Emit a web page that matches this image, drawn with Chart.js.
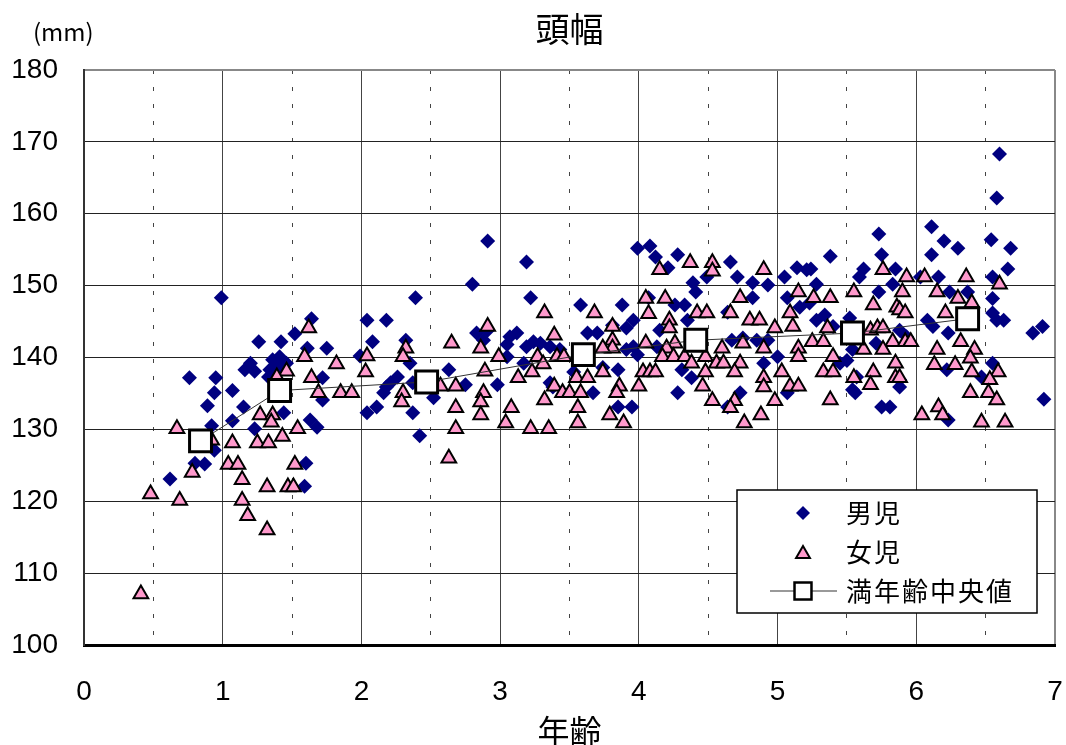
<!DOCTYPE html>
<html lang="ja">
<head>
<meta charset="utf-8">
<title>頭幅</title>
<script src="https://cdn.jsdelivr.net/npm/chart.js@4.4.1/dist/chart.umd.min.js"></script>
<style>
    html, body { margin: 0; padding: 0; background: #fff; }
    #caixa { width: 1066px; height: 745px; }
</style>
</head>
<body>
<div id="caixa"><canvas id="grafico"></canvas></div>
<script>
// dados: [idade, largura da cabeca (mm)]
const boys = [
    [0.99,148.3],[1.64,145.4],[1.52,143.3],[1.26,142.2],[1.42,142.2],[1.61,141.3],[1.75,141.3],
    [1.20,139.2],[1.16,138.3],[1.23,138.1],[1.36,139.7],[1.41,140.1],[1.46,139.2],[1.34,138.3],
    [1.41,138.7],[1.33,137.3],[0.76,137.2],[0.95,137.2],[0.94,135.1],[1.07,135.4],[0.89,133.3],
    [1.15,133.1],[1.72,137.2],[1.72,134.1],[1.44,132.3],[1.07,131.2],[0.92,130.5],[1.23,130.1],
    [1.63,131.3],[1.68,130.3],[0.94,127.1],[0.80,125.3],[0.87,125.2],[0.62,123.1],[1.60,125.3],
    [1.59,122.1],
    [2.91,156.2],[3.19,153.3],[2.80,150.2],[3.22,148.3],[2.39,148.3],[2.04,145.2],[2.18,145.2],
    [2.08,142.2],[2.32,142.4],[1.99,140.2],[2.35,139.2],[2.83,143.4],[2.91,143.8],[2.88,142.4],
    [3.07,142.9],[3.12,143.4],[3.05,141.8],[3.24,142.2],[3.19,141.5],[3.29,142.0],[3.36,141.5],
    [3.43,141.1],[3.05,140.1],[3.17,139.2],[2.26,137.3],[2.21,136.5],[2.16,135.1],[2.18,135.9],
    [2.11,133.1],[2.04,132.3],[2.37,136.5],[2.37,132.3],[2.42,129.1],[2.52,134.4],[2.63,138.3],
    [2.75,136.2],[2.98,136.2],[3.36,136.5],[3.38,135.9],
    [3.99,155.2],[4.08,155.5],[4.12,154.0],[4.28,154.3],[4.21,152.5],[4.66,153.3],[4.71,151.2],
    [4.39,150.4],[4.41,149.1],[4.49,151.2],[4.82,150.4],[4.93,150.1],[4.82,148.3],[5.14,152.5],
    [5.21,152.2],[5.05,151.2],[5.07,148.3],[5.16,147.0],[5.23,147.6],[3.58,147.3],[3.88,147.3],
    [4.26,147.3],[4.33,147.3],[4.07,148.3],[4.64,146.3],[4.35,145.2],[3.81,144.5],[3.96,145.2],
    [3.91,144.1],[3.63,143.4],[3.70,143.4],[4.15,143.8],[4.67,142.4],[4.75,142.7],[4.85,142.4],
    [4.93,142.4],[4.90,139.2],[5.00,140.1],[3.91,141.1],[3.99,140.4],[3.96,141.5],[4.13,141.5],
    [3.85,138.3],[3.74,138.6],[3.53,138.0],[4.31,138.3],[4.38,137.2],[3.67,135.1],[4.28,135.1],
    [4.73,135.1],[5.07,135.1],[3.85,133.1],[3.95,133.1],[4.64,133.1],
    [6.60,168.3],[6.58,162.2],[6.11,158.2],[5.73,157.2],[6.20,156.2],[6.54,156.4],[6.30,155.2],
    [6.68,155.2],[5.75,154.3],[6.11,154.3],[5.38,154.1],[5.24,152.3],[5.62,152.3],[5.59,151.2],
    [5.85,152.3],[6.66,152.3],[5.28,150.2],[5.73,149.1],[5.83,150.2],[6.03,151.2],[6.16,151.2],
    [6.55,151.2],[6.24,149.1],[6.37,149.1],[6.55,148.2],[6.55,146.2],[6.63,145.2],[6.84,143.4],
    [6.91,144.3],[6.08,145.2],[6.12,144.3],[6.23,143.4],[5.52,145.5],[5.28,145.2],[5.34,145.9],
    [5.40,144.3],[5.54,141.1],[5.71,142.0],[5.88,143.8],[5.93,142.9],[6.55,139.2],[6.22,138.3],
    [6.47,137.3],[5.56,135.1],[5.75,133.1],[5.81,133.1],[5.88,135.9],[6.23,131.3],[6.92,134.2],
    [5.45,139.2],[5.50,139.6],[6.58,145.2],[5.57,137.3],[5.54,135.5],[5.88,136.9]
];

const girls = [
    [1.62,144.1],[1.59,140.1],[1.46,138.1],[1.39,137.3],[1.64,137.2],[1.69,135.1],[1.27,132.0],
    [1.36,132.0],[1.35,131.0],[0.67,130.1],[1.54,130.1],[1.43,129.0],[1.07,128.1],[1.25,128.1],
    [1.33,128.1],[0.92,128.5],[1.04,125.1],[1.11,125.1],[1.52,125.1],[0.78,124.0],[1.14,123.0],
    [1.32,122.0],[1.47,122.0],[1.51,122.0],[0.48,121.0],[0.69,120.1],[1.14,120.1],[1.18,118.0],
    [1.32,116.0],[0.41,107.1],
    [3.32,146.2],[2.91,144.3],[3.39,143.1],[2.65,142.0],[2.86,141.3],[2.32,141.3],[2.30,140.1],
    [2.04,140.2],[1.82,139.1],[2.99,140.1],[3.27,140.1],[3.41,140.1],[3.46,140.1],[3.31,139.1],
    [2.03,138.0],[2.89,138.1],[3.23,138.0],[3.13,137.2],[1.85,135.1],[1.93,135.1],[2.57,136.0],
    [2.68,136.0],[2.30,135.1],[2.29,133.8],[2.88,135.1],[2.86,133.8],[3.39,136.0],[3.45,135.1],
    [3.32,134.1],[2.68,133.0],[3.08,133.0],[2.86,132.0],[3.04,130.9],[2.68,130.1],[3.22,130.1],
    [3.35,130.1],[2.63,126.0],
    [4.15,152.2],[4.37,153.2],[4.53,153.2],[4.53,152.0],[4.90,152.2],[5.15,149.1],[4.05,148.2],
    [4.19,148.2],[4.73,148.3],[3.68,146.2],[4.07,146.1],[4.42,146.2],[4.49,146.2],[4.66,146.2],
    [4.80,145.2],[4.87,145.2],[4.98,144.1],[5.09,146.2],[5.11,144.3],[3.81,144.3],[4.22,145.2],
    [4.22,144.1],[3.81,142.4],[3.81,141.3],[3.74,141.3],[4.05,142.0],[4.26,142.0],[4.20,141.3],
    [4.60,141.3],[4.75,142.0],[4.90,141.3],[5.15,141.3],[5.15,140.1],[4.17,140.1],[4.25,140.1],
    [4.33,140.1],[4.38,139.2],[4.48,140.1],[4.56,139.2],[4.61,139.2],[4.73,139.2],[3.74,138.0],
    [4.03,138.0],[4.08,138.0],[4.12,138.0],[4.48,138.0],[4.69,138.0],[5.03,138.0],[3.55,137.2],
    [3.63,137.2],[4.90,137.2],[4.90,135.9],[5.09,136.0],[5.15,136.0],[3.86,136.0],[3.84,135.1],
    [4.00,136.0],[4.46,136.0],[3.50,135.1],[3.58,135.1],[3.56,133.0],[3.79,132.0],[3.56,130.9],
    [3.89,130.9],[4.53,134.0],[4.69,134.0],[4.66,133.0],[4.98,134.0],[4.76,130.9],[4.88,132.0],
    [5.76,152.2],[5.93,151.2],[6.06,151.2],[6.36,151.2],[6.60,150.2],[6.15,149.1],[5.55,149.1],
    [5.90,149.1],[6.30,148.2],[6.40,147.6],[5.26,148.3],[5.38,148.3],[5.69,147.3],[5.86,147.0],
    [5.88,146.6],[5.92,146.2],[6.21,146.2],[5.36,144.1],[5.67,143.8],[5.72,144.1],[5.76,144.1],
    [5.25,142.2],[5.33,142.2],[5.83,142.2],[5.92,142.2],[5.96,142.2],[6.32,142.2],[5.62,141.1],
    [5.76,141.1],[6.15,141.1],[6.42,141.1],[5.40,140.1],[5.85,139.2],[6.39,139.9],[6.13,139.0],
    [6.28,139.0],[5.33,138.0],[5.40,138.0],[5.69,138.0],[6.40,138.0],[6.59,138.0],[5.55,137.2],
    [5.67,136.2],[5.85,137.2],[5.88,137.2],[6.53,136.9],[6.39,135.1],[6.52,135.1],[6.58,134.1],
    [5.38,134.1],[6.04,132.0],[6.16,133.1],[6.19,132.0],[6.47,131.0],[6.64,131.0]
];

// mediana por idade completa
const medianAge = [0.84, 1.41, 2.47, 3.60, 4.41, 5.54, 6.37];
const medianWidth = [128.4, 135.4, 136.6, 140.4, 142.4, 143.4, 145.4];

const seriesNames = ["男児", "女児", "満年齢中央値"];
const xMin = 0, xMax = 7;
const yMin = 100, yMax = 180, yStep = 10;

const fonteJp = '"Noto Sans CJK JP", "Noto Sans", sans-serif';
const fonteNum = '"Liberation Sans", Arial, sans-serif';

function toPoints(lista) {
    return lista.map(p => ({ x: p[0], y: p[1] }));
}

// titulo, "(mm)" e a legenda dentro da area do grafico
const extras = {
    id: 'extras',
    afterDraw(chart) {
        const ctx = chart.ctx;
        const area = chart.chartArea;
        const helpers = Chart.helpers;
        ctx.save();
        ctx.fillStyle = '#000';
        ctx.textBaseline = 'middle';

        ctx.font = '34px ' + fonteJp;
        ctx.textAlign = 'center';
        ctx.fillText('頭幅', (area.left + area.right) / 2, 29);

        ctx.font = '24px ' + fonteJp;
        ctx.textAlign = 'left';
        ctx.fillText('(mm)', 33, 32);

        // caixa da legenda
        const bx = 737, by = 490, bw = 300, bh = 123;
        ctx.fillStyle = '#fff';
        ctx.fillRect(bx, by, bw, bh);
        ctx.strokeStyle = '#000';
        ctx.lineWidth = 1.5;
        ctx.strokeRect(bx, by, bw, bh);

        const mx = 803;
        const tx = 846;
        const linhas = [513, 552, 591];

        ctx.fillStyle = '#000080';
        ctx.strokeStyle = '#000080';
        helpers.drawPoint(ctx, { pointStyle: 'rectRot', radius: 7, rotation: 0, borderWidth: 0 }, mx, linhas[0]);

        ctx.fillStyle = '#FF99CC';
        ctx.strokeStyle = '#000';
        ctx.lineWidth = 2;
        helpers.drawPoint(ctx, { pointStyle: 'triangle', radius: 8, rotation: 0, borderWidth: 2 }, mx, linhas[1] + 2);

        ctx.strokeStyle = '#777';
        ctx.lineWidth = 1.5;
        ctx.beginPath();
        ctx.moveTo(770, linhas[2]);
        ctx.lineTo(837, linhas[2]);
        ctx.stroke();
        ctx.fillStyle = '#fff';
        ctx.strokeStyle = '#000';
        ctx.lineWidth = 2.5;
        helpers.drawPoint(ctx, { pointStyle: 'rect', radius: 12, rotation: 0, borderWidth: 2.5 }, mx, linhas[2]);

        ctx.fillStyle = '#000';
        ctx.font = '26px ' + fonteJp;
        ctx.letterSpacing = '2px';
        seriesNames.forEach((nome, i) => {
            ctx.fillText(nome, tx, linhas[i]);
        });
        ctx.restore();
    }
};

window.onload = () => {
    const grafico = document.getElementById("grafico");

    new Chart(grafico, {
        type: "scatter",
        data: {
            datasets: [
                {
                    label: seriesNames[0],
                    data: toPoints(boys),
                    pointStyle: 'rectRot',
                    pointRadius: 7.5,
                    backgroundColor: '#000080',
                    borderColor: '#000080',
                    borderWidth: 0,
                    order: 2
                },
                {
                    label: seriesNames[1],
                    data: toPoints(girls),
                    pointStyle: 'triangle',
                    pointRadius: 8.5,
                    backgroundColor: '#FF99CC',
                    borderColor: '#000',
                    borderWidth: 2,
                    order: 1
                },
                {
                    label: seriesNames[2],
                    data: medianAge.map((a, i) => ({ x: a, y: medianWidth[i] })),
                    showLine: true,
                    pointStyle: 'rect',
                    pointRadius: 15.5,
                    pointBackgroundColor: '#fff',
                    pointBorderColor: '#000',
                    pointBorderWidth: 3,
                    borderColor: '#333',
                    borderWidth: 1,
                    order: 0
                }
            ]
        },
        options: {
            responsive: true,
            maintainAspectRatio: false,
            animation: false,
            events: [],
            layout: {
                autoPadding: false,
                padding: { top: 70, right: 11, left: 0, bottom: 0 }
            },
            plugins: {
                legend: { display: false },
                tooltip: { enabled: false },
                title: { display: false }
            },
            scales: {
                x: {
                    type: 'linear',
                    min: xMin,
                    max: xMax,
                    afterFit(scale) {
                        scale.height = 100;
                        scale.paddingLeft = 0;
                        scale.paddingRight = 0;
                    },
                    ticks: {
                        stepSize: 0.5,
                        color: '#000',
                        padding: 30,
                        maxRotation: 0,
                        font: { family: fonteNum, size: 28 },
                        callback: v => Number.isInteger(v) ? v : ''
                    },
                    grid: {
                        drawTicks: false,
                        color: ctx => ctx.tick && ctx.tick.value === xMax ? '#888' : '#444',
                        lineWidth: ctx => ctx.tick && ctx.tick.value === xMax ? 2 : 1
                    },
                    border: {
                        display: true,
                        color: '#000',
                        width: 3,
                        dash: ctx => (ctx.tick && !Number.isInteger(ctx.tick.value)) ? [4, 13] : []
                    },
                    title: {
                        display: true,
                        text: '年齢',
                        color: '#000',
                        font: { family: fonteJp, size: 32, lineHeight: 0.9 },
                        padding: { top: 0, bottom: 0 }
                    }
                },
                y: {
                    min: yMin,
                    max: yMax,
                    afterFit(scale) {
                        scale.width = 84;
                        scale.paddingTop = 0;
                        scale.paddingBottom = 0;
                    },
                    ticks: {
                        stepSize: yStep,
                        color: '#000',
                        padding: 26,
                        font: { family: fonteNum, size: 28 }
                    },
                    grid: {
                        drawTicks: false,
                        color: ctx => ctx.tick && ctx.tick.value === yMax ? '#888' : '#222',
                        lineWidth: ctx => ctx.tick && ctx.tick.value === yMax ? 2 : 1
                    },
                    border: {
                        display: true,
                        color: '#333',
                        width: 2
                    }
                }
            }
        },
        plugins: [extras]
    });
};
</script>
</body>
</html>
